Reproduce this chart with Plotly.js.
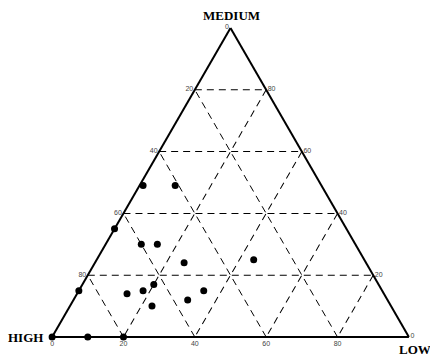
<!DOCTYPE html>
<html>
<head>
<meta charset="utf-8">
<script src="https://cdn.plot.ly/plotly-3.0.1.min.js"></script>
<style>
  html, body { margin: 0; padding: 0; background: #fff; }
  #plotly-div { width: 430px; height: 358px; }
</style>
</head>
<body>
<div id="plotly-div"></div>
<script>
// sample composition, in percent
var medium = [0, 0, 0, 15, 35, 49, 49, 30, 30, 24, 14, 15, 17, 10, 12, 15, 25];
var high   = [100, 90, 80, 85, 65, 50, 41, 60, 55.5, 51, 72, 67, 63, 67, 56, 50, 31];
var low    = [0, 10, 20, 0, 0, 1, 10, 10, 14.5, 25, 14, 18, 20, 23, 32, 35, 44];

// the edge labels run the other way round from plotly's own
var aTickVals = [20, 40, 60, 80, 100];
var aTickText = ['80', '60', '40', '20', '0'];
var bTickVals = [100, 80, 60, 40, 20];
var bTickText = ['0', '20', '40', '60', '80'];
var cTickVals = [20, 40, 60, 80, 100];
var cTickText = ['80', '60', '40', '20', '0'];

function makeAxis(vals, text) {
    return {
        title: { text: '' },
        color: '#444',
        tickmode: 'array',
        tickvals: vals,
        ticktext: text,
        ticks: '',
        tickfont: { family: 'Liberation Sans, Arial, sans-serif', size: 7, color: '#444' },
        showline: true,
        linecolor: '#000',
        linewidth: 2,
        showgrid: true,
        gridcolor: '#000',
        gridwidth: 1,
        griddash: '7px,5px'
    };
}

var trace1 = {
    type: 'scatterternary',
    mode: 'markers',
    a: medium,
    b: high,
    c: low,
    marker: { color: '#000', size: 7 },
    cliponaxis: false,
    hoverinfo: 'a+b+c'
};

var titleFont = { family: 'Liberation Serif, Times New Roman, serif', size: 13, color: '#000', weight: 'bold' };

var layout = {
    width: 430,
    height: 358,
    margin: { l: 52, r: 21, t: 28, b: 21 },
    paper_bgcolor: '#fff',
    showlegend: false,
    ternary: {
        sum: 100,
        bgcolor: '#fff',
        aaxis: makeAxis(aTickVals, aTickText),
        baxis: makeAxis(bTickVals, bTickText),
        caxis: makeAxis(cTickVals, cTickText)
    },
    annotations: [
        { text: 'MEDIUM', xref: 'paper', yref: 'paper', x: 0.503, y: 1.04,
          xanchor: 'center', yanchor: 'middle', showarrow: false, font: titleFont },
        { text: 'HIGH', xref: 'paper', yref: 'paper', x: -0.073, y: 0,
          xanchor: 'center', yanchor: 'middle', showarrow: false, font: titleFont },
        { text: 'LOW', xref: 'paper', yref: 'paper', x: 1.017, y: -0.042,
          xanchor: 'center', yanchor: 'middle', showarrow: false, font: titleFont }
    ]
};

Plotly.newPlot('plotly-div', [trace1], layout, { displayModeBar: false, staticPlot: true });
</script>
</body>
</html>
